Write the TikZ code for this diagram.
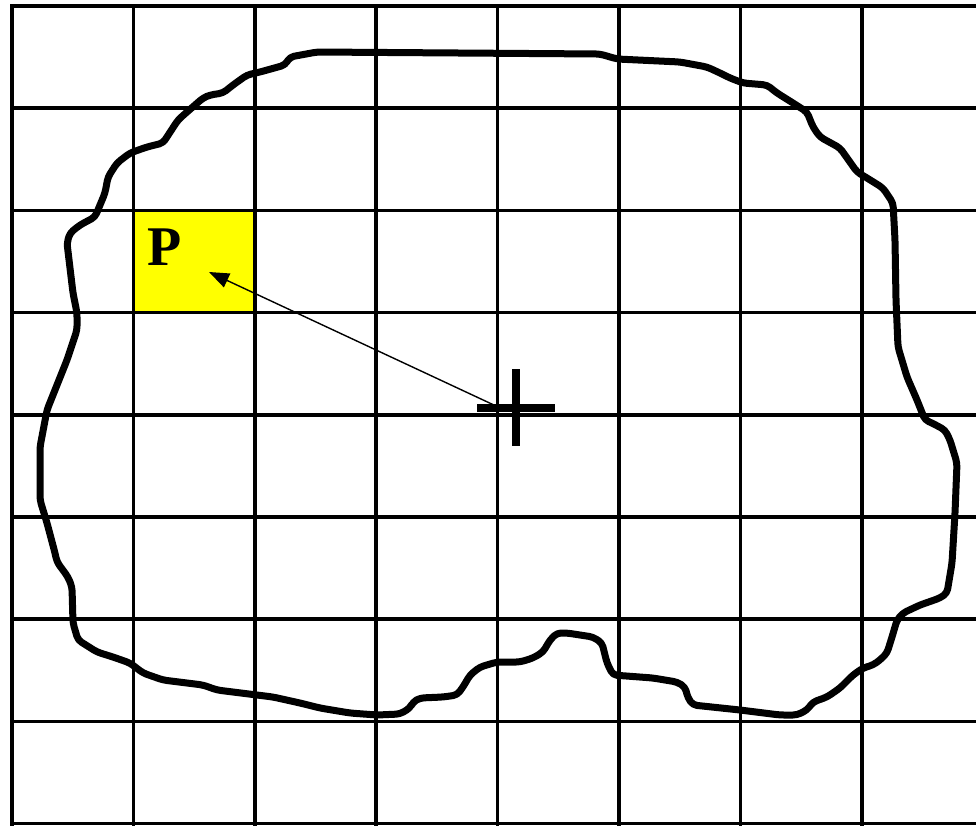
\documentclass[tikz,border=0pt]{standalone}
\usepackage{fontspec}
\setmainfont{Liberation Serif}
\usetikzlibrary{arrows.meta}
\definecolor{ink}{HTML}{000000}
\definecolor{cellfill}{HTML}{FFFF00}
\tikzset{
  gridline/.style={draw=ink, line width=3.6pt, line cap=rect},
  % hand-drawn region boundary
  outline/.style={draw=ink, line width=7pt, line join=round, rounded corners=4pt},
  crossbar/.style={draw=ink, line width=7.5pt},
  arr/.style={-{Triangle[length=20pt,width=15pt]}, line width=1.4pt, color=ink},
  label/.style={font=\bfseries\fontsize{56}{56}\selectfont, text=ink},
}

\begin{document}
\begin{tikzpicture}[x=1pt,y=-1pt]
  \useasboundingbox (0,0) rectangle (976,825);
  \def\dx{121.4} \def\dy{102.2}

  % marked cell
  \fill[cellfill] (12+\dx,6+2*\dy) rectangle (12+2*\dx,6+3*\dy);

  % grid
  \foreach \j in {0,...,8}{
    \draw[gridline] (12,6+\j*\dy) -- (980,6+\j*\dy);
  }
  \foreach \i in {0,...,7}{
    \draw[gridline] (12+\i*\dx,6) -- (12+\i*\dx,830);
  }

  % region boundary
  \draw[outline] (317,52) -- (600,54) -- (617,59) -- (680,62) -- (707,67) -- (720,73)
    -- (730,78) -- (743,83) -- (767,85) -- (777,93) -- (793,103) -- (807,112)
    -- (813,127) -- (820,137) -- (840,148) -- (857,172) -- (867,178) -- (883,188)
    -- (893,203) -- (895,240) -- (896,300) -- (898,347) -- (907,377) -- (917,400)
    -- (925,420) -- (932,423) -- (945,430) -- (950,440) -- (957,463) -- (955,513)
    -- (952,563) -- (947,593) -- (940,598) -- (920,605) -- (903,613) -- (897,620)
    -- (892,637) -- (887,653) -- (880,660) -- (873,665) -- (863,668) -- (853,675)
    -- (840,688) -- (827,697) -- (813,702) -- (807,710) -- (797,715) -- (780,715)
    -- (740,710) -- (693,705) -- (688,698) -- (685,687) -- (677,682) -- (653,678)
    -- (613,675) -- (607,663) -- (602,643) -- (593,637) -- (567,633) -- (557,633)
    -- (550,640) -- (543,652) -- (533,658) -- (520,662) -- (497,662) -- (480,667)
    -- (470,675) -- (463,687) -- (457,695) -- (443,697) -- (420,698) -- (413,702)
    -- (410,708) -- (400,714) -- (377,715) -- (350,713) -- (320,708) -- (300,703)
    -- (273,697) -- (217,690) -- (203,685) -- (163,680) -- (143,673) -- (130,663)
    -- (113,657) -- (97,652) -- (78,640) -- (73,623) -- (72,587) -- (68,577)
    -- (57,562) -- (55,553) -- (47,523) -- (40,500) -- (40,447) -- (47,410)
    -- (67,360) -- (77,330) -- (77,313) -- (73,293) -- (67,243) -- (70,233)
    -- (80,225) -- (95,217) -- (100,205) -- (105,193) -- (108,177) -- (117,163)
    -- (130,153) -- (147,147) -- (163,143) -- (178,120) -- (187,112) -- (203,98)
    -- (210,95) -- (223,93) -- (233,85) -- (247,75) -- (260,72) -- (278,67)
    -- (285,65) -- (290,57) -- cycle;

  % point and centre
  \node[label] (P) at (165,247) {P};
  \coordinate (centre) at (496,406);
  \coordinate (tip) at (209,272);
  \draw[arr] (centre) -- (tip);
  \coordinate (mark) at (516,408);
  \draw[crossbar] (mark) ++(-39,0) -- ++(78,0);
  \draw[crossbar] (mark) ++(0,-39) -- ++(0,77);
\end{tikzpicture}
\end{document}
